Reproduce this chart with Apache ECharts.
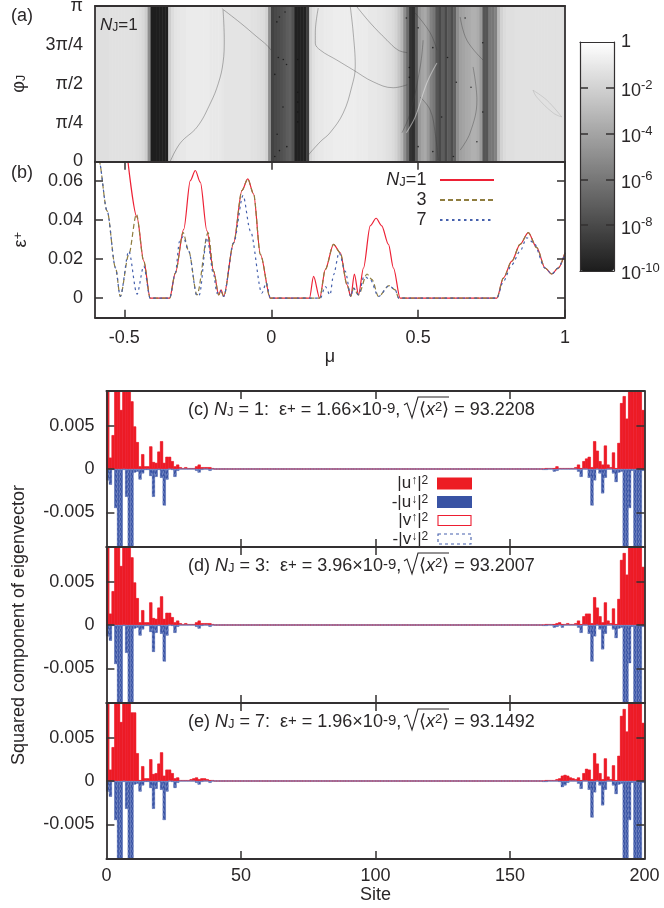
<!DOCTYPE html>
<html><head><meta charset="utf-8">
<style>html,body{margin:0;padding:0;background:#fff}#c{width:664px;height:908px}</style>
<script src="https://cdn.jsdelivr.net/npm/echarts@6/dist/echarts.min.js"></script>
</head><body><div id="c"></div>
<script>
// ---------- panel (a): log10 of the heat value, one entry per 0.01 of mu from -0.6
const heatProfile = [
-1.4,-1.4,-1.4,-1.4,-1.4,-1.3,-1.3,-1.3,-1.3,-1.3,-1.3,-1.3,-1.3,-1.3,-1.4,-1.5,-1.7,-2.2,-5,-9.9,
-9.9,-9.9,-9.9,-9.9,-9.9,-2.2,-1.5,-1.2,-1.1,-1.0,-1.0,-.9,-.9,-.9,-.9,-.9,-.9,-.9,-.9,-1.0,
-1.0,-1.0,-1.0,-1.1,-1.2,-1.2,-1.2,-1.2,-1.2,-1.2,-1.2,-1.2,-1.2,-1.3,-1.3,-1.4,-1.5,-1.6,-2,-5,
-8.3,-8.0,-7.9,-7.7,-7.5,-7.2,-7.0,-7.6,-9.8,-9.8,-9.8,-9.8,-8.5,-1.8,-1.3,-1.1,-1.0,-1.0,-.9,-.9,
-.9,-.8,-.8,-.8,-.8,-.8,-.8,-.8,-.8,-.9,-.9,-.9,-.9,-1.0,-1.0,-1.0,-1.1,-1.1,-1.2,-1.3,-1.4,-1.6,-1.9,-2.5,
-3.2,-5,-6.5,-9,-9.2,-7.2,-4.6,-4,-3.8,-4.5,-5.5,-6,-7.5,-8,-7.2,-8,-7.2,-7.8,-7,-5,-4.2,
-4,-3.8,-3.7,-3.5,-3.5,-3.7,-4.5,-7.5,-7.5,-6,-6,-5.5,-3,-2,-1.6,-1.4,-1.4,-1.4,-1.3,-1.3,-1.3,
-1.3,-1.3,-1.3,-1.3,-1.3,-1.3,-1.3,-1.3,-1.3,-1.3,-1.3,-1.3,-1.3,-1.4];
const phiRows = ['0..pi'];
const phiTickLabels = ['0','π/4','π/2','3π/4','π'];
const darkCurves = [
 [[-.344,0],[-.31,.37],[-.252,.70],[-.207,1.18],[-.18,1.58],[-.164,2.0],[-.16,2.46],[-.164,3.06]],
 [[-.168,3.09],[-.105,2.8],[-.049,2.52],[-.015,2.35],[-.001,2.25]],
 [[.16,3.1],[.15,2.6],[.15,2.39],[.167,2.25],[.223,2.05],[.279,1.85],[.347,1.61],[.415,1.49],[.463,1.55]],
 [[.269,3.13],[.279,2.6],[.286,1.92],[.274,1.51],[.245,.98],[.2,.58],[.167,.4],[.126,.13]],
 [[.291,3.13],[.337,2.8],[.394,2.45],[.432,2.25],[.463,2.2]],
 [[.49,3.0],[.541,2.6],[.564,2.25]],
 [[.517,2.45],[.507,1.91],[.473,.98],[.445,.58]],
 [[.507,1.3],[.541,1.04],[.558,.58],[.568,.03]],
 [[.643,2.92],[.666,2.45],[.721,2.05]],
 [[.687,1.91],[.7,1.24],[.677,.58],[.643,.23]]
];
const lightCurve = [[.564,1.99],[.53,1.59],[.49,.9],[.46,.58]];
const faintLoop = [[.891,1.44],[.938,1.24],[.989,.9],[.96,.98],[.904,1.3],[.891,1.44]];
const specks = [[.019,2.82],[.028,2.92],[.047,3.02],[.024,2.1],[.041,2.06],[.052,1.96],[.09,2.06],[.012,1.76],
 [.04,1.1],[.02,.55],[.053,.3],[.012,.1],[.028,.22],[.09,1.4],[.09,1.2],[.09,1.0],[.09,.8],
 [.46,2.9],[.5,2.7],[.55,2.3],[.47,1.9],[.47,1.7],[.6,2.1],[.63,1.6],[.58,.9],[.68,1.5],[.72,1.0],[.7,.4],[.72,2.4],[.55,.2],[.62,.1],[.66,2.9],[.5,.3]];

// ---------- panel (b): [mu, eps+]
const curveNJ1 = [[-.49,.073],[-.457,.0414],[-.434,.019],[-.412,0],[-.346,0],[-.3265,.0129],[-.298,.0353],[-.2755,.0603],[-.2585,.0655],[-.2415,.0595],[-.219,.0345],[-.196,.0138],[-.179,.0017],[-.171,.0043],[-.162,.0009],[-.128,.0284],[-.0998,.0552],[-.08,.0612],[-.06,.0534],[-.037,.0224],[-.003,0],[.13,0],[.144,.0112],[.165,0],[.184,.0147],[.212,.0276],[.235,.0233],[.258,.0069],[.271,.0009],[.283,.0124],[.297,.0017],[.314,.0155],[.337,.0371],[.357,.041],[.376,.0371],[.399,.0276],[.416,.0155],[.439,0],[.768,0],[.79,.0103],[.819,.019],[.847,.0276],[.875,.0336],[.904,.0259],[.932,.0155],[.955,.0124],[.977,.0155],[1,.0233]];
const curveNJ3 = [[-.6,.083],[-.587,.0707],[-.559,.0448],[-.53,.0155],[-.514,.0009],[-.485,.0224],[-.459,.0431],[-.434,.019],[-.412,0],[-.346,0],[-.3265,.0129],[-.3,.0336],[-.281,.0241],[-.253,.0017],[-.215,.0336],[-.196,.0138],[-.179,.0017],[-.171,.0035],[-.162,.0009],[-.128,.0284],[-.0998,.0552],[-.08,.0612],[-.06,.0534],[-.037,.0224],[-.003,0],[.165,0],[.184,.0147],[.212,.0276],[.235,.0233],[.258,.0069],[.271,.0009],[.28,.0052],[.297,.0017],[.326,.0124],[.343,.0095],[.365,.0009],[.401,.0064],[.422,.0043],[.434,0],[.768,0],[.79,.0103],[.819,.019],[.847,.0276],[.875,.0336],[.904,.0259],[.932,.0155],[.955,.0124],[.977,.0155],[1,.0233]];
const curveNJ7 = [[-.6,.083],[-.587,.0707],[-.559,.0448],[-.53,.0155],[-.514,.0009],[-.485,.0241],[-.457,.0021],[-.434,.0164],[-.412,0],[-.346,0],[-.3265,.0129],[-.312,.0293],[-.3,.0316],[-.281,.0241],[-.253,.0012],[-.245,.0017],[-.219,.031],[-.196,.012],[-.185,.0026],[-.176,.0043],[-.162,.0009],[-.128,.0284],[-.096,.0526],[-.071,.0345],[-.032,.0026],[-.017,.0078],[-.003,0],[.167,0],[.184,.006],[.2,.0017],[.212,.012],[.231,.0233],[.252,.0138],[.271,.0009],[.28,.0052],[.297,.0017],[.316,.0112],[.337,.0095],[.365,.0009],[.401,.0064],[.422,.0043],[.434,0],[.768,0],[.79,.0086],[.819,.0172],[.847,.0241],[.87,.031],[.893,.0285],[.932,.0155],[.955,.0124],[.977,.0155],[1,.0233]];

// ---------- panels (c,d,e): squared components per site. "Left" lists start at site 0 going up,
// "Right" lists start at site 199 going down; everything between is ~0. Off-scale bars are read as 0.012.
const upLeftC = [.012,.0013,.0039,.012,.012,.0068,.012,.012,.012,.0078,.0049,.0031,.0003,.0017,.0003,.0003,.0026,.0008,.0007,.002,.0032,.0007,.0014,.0014,.0009,.0003,.0005,.0002,.0001,.0002,.0001,.0001,.0001,.0003,.0005,.0002,.0002,.0002,.0002,.0001];
const upRightC = [.0068,.012,.012,.012,.012,.012,.0058,.0084,.0076,.003,.0001,.0019,.0002,.0005,.0027,.0005,.0009,.0021,.0032,.0002,.0014,.0012,.0009,.0001,.0005,.0002,.0001,.0001,.0001,.0001,.0001,.0001,.0003,.0001,.0001,.0001,.0001];
const downLeftC = [.0013,.0018,.0001,.0045,.012,.012,.0001,.0032,.012,.012,.0004,.0003,.0012,.0005,.0001,.0001,.0008,.0032,.0009,.0001,.001,.0042,.0012,0,.0001,.0009,.0002,0,0,0,0,0,0,.0002,.0004,.0001,0,0,.0002];
const downRightC = [.0002,.012,.012,.012,.0002,.0045,.012,.012,.0003,.0004,.0015,.0005,0,0,.001,.0028,.0005,0,.0013,.0042,.001,0,0,.0009,.0003,0,0,0,0,0,0,0,.0002,.0003,0,0,.0001,.0001];
const upLeftD = [.012,.0013,.0039,.012,.012,.0068,.012,.012,.012,.0078,.0049,.0031,.0003,.0017,.0003,.0003,.0026,.0008,.0007,.002,.0033,.0007,.0014,.0014,.0009,.0003,.0005,.0002,.0001,.0002,.0001,.0001,.0001,.0003,.0005,.0002,.0002,.0002,.0002,.0001];
const upRightD = [.0067,.012,.012,.012,.012,.012,.0058,.0083,.0075,.003,.0001,.0019,.0002,.0005,.0026,.0003,.001,.002,.0032,.0002,.0013,.0013,.001,.0001,.0005,.0002,.0001,.0001,.0002,.0001,.0001,.0003,.0002,.0001,.0001,.0001,.0001];
const downLeftD = [.0013,.0018,.0001,.0045,.012,.012,.0001,.0032,.012,.012,.0004,.0003,.0012,.0005,.0001,.0001,.0008,.0031,.0009,.0001,.001,.0042,.0012,0,.0001,.0009,.0002,0,0,0,0,0,0,.0002,.0004,.0001,0,0,.0002];
const downRightD = [.0002,.012,.012,.012,.0002,.0044,.012,.012,.0003,.0004,.0015,.0005,0,0,.001,.0028,.0005,0,.0013,.0042,.001,0,0,.0009,.0003,0,0,0,0,0,.0003,0,.0002,.0003,0,0,.0001,.0001];
const upLeftE = [.012,.0013,.0039,.012,.012,.0068,.012,.012,.012,.0079,.0079,.0032,.0001,.0017,.0003,.0003,.0025,.0008,.0009,.002,.0033,.0006,.0013,.0013,.0009,.0003,.0004,.0001,.0001,.0001,.0001,.0002,.0003,.0004,.0002,.0003,.0003,.0002,.0001,.0001];
const upRightE = [.0067,.012,.012,.012,.012,.012,.0057,.0083,.0075,.0029,.0001,.0018,.0002,.0005,.0026,.0002,.0009,.002,.0032,.0002,.0013,.0014,.0009,.0001,.0004,.0002,.0003,.0004,.0006,.0007,.0006,.0003,.0002,.0001,.0001,.0001,.0001];
const downLeftE = [.0012,.0018,.0001,.0045,.012,.012,.0001,.0032,.012,.012,.0004,.0003,.0012,.0005,.0001,.0001,.0008,.0032,.0009,.0001,.001,.0045,.0012,0,.0001,.0008,.0002,0,0,0,0,0,0,.0002,.0004,.0001,0,0,.0002];
const downRightE = [.0002,.012,.012,.012,.0002,.0045,.012,.012,.0003,.0004,.0015,.0005,0,0,.001,.0028,.0005,0,.0013,.0042,.001,0,0,.0009,.0003,0,0,0,.0002,.0005,.0007,.0001,0,0,0,0,.0001,.0001];
const siteCount = 200;
const xTickValues = [50,100,150];
const siteTickValues = [0,50,100,150,200];
const yTickValues = [-.005,0,.005];
const panelValues = [
 {up:[upLeftC,upRightC],down:[downLeftC,downRightC]},
 {up:[upLeftD,upRightD],down:[downLeftD,downRightD]},
 {up:[upLeftE,upRightE],down:[downLeftE,downRightE]}
];
const eigenNames = ['|u↑|²','-|u↓|²','|v↑|²','-|v↓|²'];

// ---------- styling
const ink = '#2a2728', frame = '#333031';
const RED = '#ed1c24', BLUE = '#3953a4';
const FF = '"Liberation Sans",Arial,Helvetica,sans-serif';
const base = (size) => ({fontFamily:FF,color:ink,fontSize:size,fontWeight:'normal'});
function richSet(size){
  const sup = Math.round(size*0.72);
  const pad = Math.round(size*0.38);
  return {
    t:{...base(size),lineHeight:size,padding:[pad,0,pad,0],verticalAlign:'middle'},
    i:{...base(size),fontStyle:'italic',lineHeight:size,padding:[pad,0,pad,0],verticalAlign:'middle'},
    u:{...base(sup),lineHeight:sup,verticalAlign:'top'},
    d:{...base(sup),lineHeight:sup,verticalAlign:'bottom'},
    p:{...base(sup+2),lineHeight:sup+2,verticalAlign:'top'}
  };
}
const expand = (pair,sign) => {
  const out = [];
  for (let s=0;s<siteCount;s++){
    let v = 0;
    if (s < pair[0].length) v = pair[0][s];
    else if (siteCount-1-s < pair[1].length) v = pair[1][siteCount-1-s];
    out.push([s+0.5, sign*v]);
  }
  return out;
};

// ---------- layout
const G = {
 a:{left:95,top:6,width:470,height:155.5},
 b:{left:95,top:161.7,width:470,height:156},
 c:{left:106.4,top:391,width:538,height:156},
 d:{left:106.4,top:547,width:538,height:156},
 e:{left:106.4,top:703,width:538,height:156},
 bar:{left:580,top:42,width:34,height:229}
};
const grids = [G.a,G.b,G.c,G.d,G.e,G.bar];
const line = (w=1.8)=>({show:true,onZero:false,lineStyle:{color:frame,width:w}});
const xAxes = [], yAxes = [];
function xA(o){xAxes.push({z:6,axisLine:line(),splitLine:{show:false},...o});return xAxes.length-1;}
function yA(o){yAxes.push({z:6,axisLine:line(),splitLine:{show:false},...o});return yAxes.length-1;}
const noLabel = {show:false};
const inTick = (vals,len=8)=>({show:true,inside:true,length:len,lineStyle:{color:frame,width:1.5},customValues:vals});

// (a) category axes for the cells, value axes for curves
const xCat = xA({type:'category',gridIndex:0,data:heatProfile.map((_,i)=>String(i)),axisTick:{show:false},axisLabel:noLabel,position:'bottom'});
const yCat = yA({type:'category',gridIndex:0,data:phiRows,axisTick:{show:false},axisLabel:noLabel,axisLine:{show:false}});
const xMuA = xA({type:'value',gridIndex:0,min:-.6,max:1,position:'top',axisTick:{show:false},axisLabel:noLabel});
const yPhi = yA({type:'value',gridIndex:0,min:0,max:Math.PI,interval:Math.PI/4,position:'left',axisTick:{show:false},
  axisLabel:{...base(18),margin:12,formatter:v=>phiTickLabels[Math.round(v/(Math.PI/4))]},
  name:'{t|φ}{d|J}',nameLocation:'middle',nameRotate:90,nameGap:62,nameTextStyle:{rich:richSet(18)}});
yA({type:'value',gridIndex:0,min:0,max:1,position:'right',axisTick:{show:false},axisLabel:noLabel});

// (b)
const xMu = xA({type:'value',gridIndex:1,min:-.6,max:1,position:'bottom',
  axisTick:inTick([-.5,0,.5,1]),
  axisLabel:{...base(18),margin:11,customValues:[-.5,0,.5,1],formatter:v=>String(v)},
  name:'μ',nameLocation:'middle',nameGap:16,nameTextStyle:base(18)});
xA({type:'value',gridIndex:1,min:-.6,max:1,position:'top',axisTick:inTick([-.5,0,.5,1]),axisLabel:noLabel});
const yEps = yA({type:'value',gridIndex:1,min:-.01,max:.07,position:'left',
  axisTick:inTick([0,.02,.04,.06]),
  axisLabel:{...base(18),margin:12,customValues:[0,.02,.04,.06],formatter:v=>String(v)},
  name:'{t|ε}{u|+}',nameLocation:'middle',nameRotate:90,nameGap:64,nameTextStyle:{rich:richSet(18)}});
yA({type:'value',gridIndex:1,min:-.01,max:.07,position:'right',axisTick:inTick([0,.02,.04,.06]),axisLabel:noLabel});

// (c,d,e)
const barX = [], barY = [];
[2,3,4].forEach((g,k)=>{
  const last = k===2;
  barX.push(xA({type:'value',gridIndex:g,min:0,max:200,position:'bottom',axisTick:inTick(xTickValues),
    axisLabel:last?{...base(18),margin:8,customValues:siteTickValues,formatter:v=>String(v)}:noLabel,
    ...(last?{name:'Site',nameLocation:'middle',nameGap:25,nameTextStyle:base(18)}:{})}));
  xA({type:'value',gridIndex:g,min:0,max:200,position:'top',axisTick:inTick(xTickValues),axisLabel:noLabel});
  barY.push(yA({type:'value',gridIndex:g,min:-.009,max:.009,position:'left',axisTick:inTick(yTickValues),
    axisLabel:{...base(18),margin:12,customValues:yTickValues,formatter:v=>String(v)},
    ...(k===1?{name:'Squared component of eigenvector',nameLocation:'middle',nameRotate:90,nameGap:78,nameTextStyle:base(18)}:{})}));
  yA({type:'value',gridIndex:g,min:-.009,max:.009,position:'right',axisTick:inTick(yTickValues),axisLabel:noLabel});
});

// colour bar axes
xA({type:'value',gridIndex:5,min:0,max:1,position:'bottom',axisTick:{show:false},axisLabel:noLabel,axisLine:line(1.2)});
xA({type:'value',gridIndex:5,min:0,max:1,position:'top',axisTick:{show:false},axisLabel:noLabel,axisLine:line(1.2)});
const barTicks = [-8,-6,-4,-2];
const barRich = {...richSet(18),
  b:{...base(18),lineHeight:18,padding:[7,0,0,0],verticalAlign:'middle'},
  u:{...base(13),lineHeight:13,verticalAlign:'top'}};
yA({type:'value',gridIndex:5,min:-10,max:0,interval:2,position:'left',axisLine:line(1.2),axisTick:inTick(barTicks,8),axisLabel:noLabel});
yA({type:'value',gridIndex:5,min:-10,max:0,interval:2,position:'right',axisLine:line(1.2),axisTick:inTick(barTicks,8),
  axisLabel:{margin:7,formatter:v=>v===0?'{t|1}':'{b|10}{u|'+v+'}',rich:barRich}});

// ---------- series
const series = [];
series.push({type:'heatmap',name:'heat',xAxisIndex:xCat,yAxisIndex:yCat,silent:true,progressive:0,
  data:phiRows.flatMap((_,r)=>heatProfile.map((v,i)=>[i,r,v]))});
const curveBase = {type:'line',xAxisIndex:xMuA,yAxisIndex:yPhi,showSymbol:false,symbol:'none',smooth:.4,silent:true,clip:true,z:3};
darkCurves.forEach(c=>series.push({...curveBase,data:c,lineStyle:{color:'rgba(60,60,60,.42)',width:.9}}));
series.push({...curveBase,data:lightCurve,lineStyle:{color:'rgba(235,235,235,.5)',width:1.1}});
series.push({...curveBase,data:faintLoop,lineStyle:{color:'rgba(150,150,150,.3)',width:1}});
series.push({type:'scatter',xAxisIndex:xMuA,yAxisIndex:yPhi,data:specks,symbolSize:1.6,silent:true,z:3,itemStyle:{color:'#141414'}});

const L = {type:'line',xAxisIndex:xMu,yAxisIndex:yEps,showSymbol:false,symbol:'none',smooth:.3,smoothMonotone:'x',clip:true,silent:true,z:3};
series.push({...L,name:'NJ=1',data:curveNJ1,itemStyle:{color:'#ed2135'},lineStyle:{color:'#ed2135',width:1.2}});
series.push({...L,name:'3',data:curveNJ3,itemStyle:{color:'#8f7d3f'},lineStyle:{color:'#8f7d3f',width:1.2,type:[5,3]}});
series.push({...L,name:'7',data:curveNJ7,itemStyle:{color:'#4661ad'},lineStyle:{color:'#4661ad',width:1.2,type:[2.5,3.5]}});

const vDownStyle = {color:'transparent',borderColor:'#6f83c0',borderWidth:1.2,borderType:[2.5,2.5]};
const vUpStyle = {color:'transparent',borderColor:'rgba(237,30,50,.7)',borderWidth:.8};
panelValues.forEach((p,k)=>{
  const common = {type:'bar',xAxisIndex:barX[k],yAxisIndex:barY[k],barWidth:3,barGap:'-100%',silent:true,clip:true,large:false,animation:false};
  series.push({...common,name:eigenNames[0],data:expand(p.up,1),itemStyle:{color:RED,borderColor:RED,borderWidth:.3}});
  series.push({...common,name:eigenNames[1],data:expand(p.down,-1),itemStyle:{color:BLUE,borderColor:BLUE,borderWidth:.3}});
  series.push({...common,name:eigenNames[2],data:expand(p.up,1),itemStyle:vUpStyle});
  series.push({...common,name:eigenNames[3],data:expand(p.down,-1),itemStyle:vDownStyle});
});

// ---------- text
const r18 = richSet(18);
const panelTitle = (tag,nj,eps,expo,rms,cy)=>[
  {text:`{t|(${tag}) }{i|N}{d|J}{t| = ${nj}:  ε}{p|+}{t| = ${eps}×10}{p|-${expo}}{t|,}`,left:188,top:cy-8,padding:0,textStyle:{rich:r18}},
  {text:`{t|⟨}{i|x}{u|2}{t|⟩ = ${rms}}`,left:419,top:cy-8,padding:0,textStyle:{rich:r18}}
];
const titles = [
  {text:'(a)',left:11,top:7,padding:0,textStyle:base(18)},
  {text:'(b)',left:11,top:164,padding:0,textStyle:base(18)},
  {text:'{i|N}{d|J}{t|=1}',left:100,top:17,padding:0,textStyle:{rich:richSet(17)}},
  ...panelTitle('c','1','1.66','9','93.2208',409),
  ...panelTitle('d','3','3.96','9','93.2007',565),
  ...panelTitle('e','7','1.96','9','93.1492',721)
];
const sqrtMark = cy => ({type:'polyline',silent:true,z:10,shape:{points:[[404,cy-4],[407,cy-6],[412,cy+9],[418,cy-12],[449,cy-12]]},style:{stroke:ink,lineWidth:1.1,fill:null}});

const legendNames = {
 'NJ=1':'{i|N}{d|J}{t|=1 }{u| }','3':'{t|3 }{u| }','7':'{t|7 }{u| }',
 '|u↑|²':'{t||u}{u|↑}{t||}{u|2}{t| }','-|u↓|²':'{t|-|u}{u|↓}{t||}{u|2}{t| }','|v↑|²':'{t||v}{u|↑}{t||}{u|2}{t| }','-|v↓|²':'{t|-|v}{u|↓}{t||}{u|2}{t| }'
};
const opt = {
  animation:false,backgroundColor:'#fff',
  grid:grids.map(g=>({...g,containLabel:false,show:false,outerBoundsMode:'none'})),
  xAxis:xAxes,yAxis:yAxes,series,title:titles,
  visualMap:{type:'continuous',seriesIndex:0,min:-10,max:0,dimension:2,calculable:false,hoverLink:false,realtime:false,
    left:580,top:42,itemWidth:34,itemHeight:229,padding:0,text:null,showLabel:false,
    inRange:{color:['#1c1c1c','#ffffff']},textStyle:{color:'rgba(0,0,0,0)',fontSize:1}},
  legend:[
   {data:['NJ=1','3','7'],orient:'vertical',align:'right',right:664-495,top:164,padding:0,itemWidth:54,itemHeight:10,itemGap:-12,selectedMode:false,
    itemStyle:{opacity:0},formatter:n=>legendNames[n],textStyle:{rich:richSet(18)}},
   {data:[{name:eigenNames[0],icon:'rect'},{name:eigenNames[1],icon:'rect'},
          {name:eigenNames[2],icon:'rect',itemStyle:{color:'#fff',borderColor:'#ed1e32',borderWidth:1.1}},
          {name:eigenNames[3],icon:'rect',itemStyle:{color:'#fff',borderColor:'#4661ad',borderWidth:1.1,borderType:[3,3]}}],
    orient:'vertical',align:'right',right:664-472,top:469,padding:0,itemWidth:33,itemHeight:10,itemGap:-10.5,selectedMode:false,
    formatter:n=>legendNames[n],textStyle:{rich:richSet(17)}}
  ],
  graphic:{elements:[sqrtMark(409),sqrtMark(565),sqrtMark(721)]}
};
const chart = echarts.init(document.getElementById('c'),null,{renderer:'canvas',width:664,height:908});
chart.setOption(opt);
</script></body></html>
